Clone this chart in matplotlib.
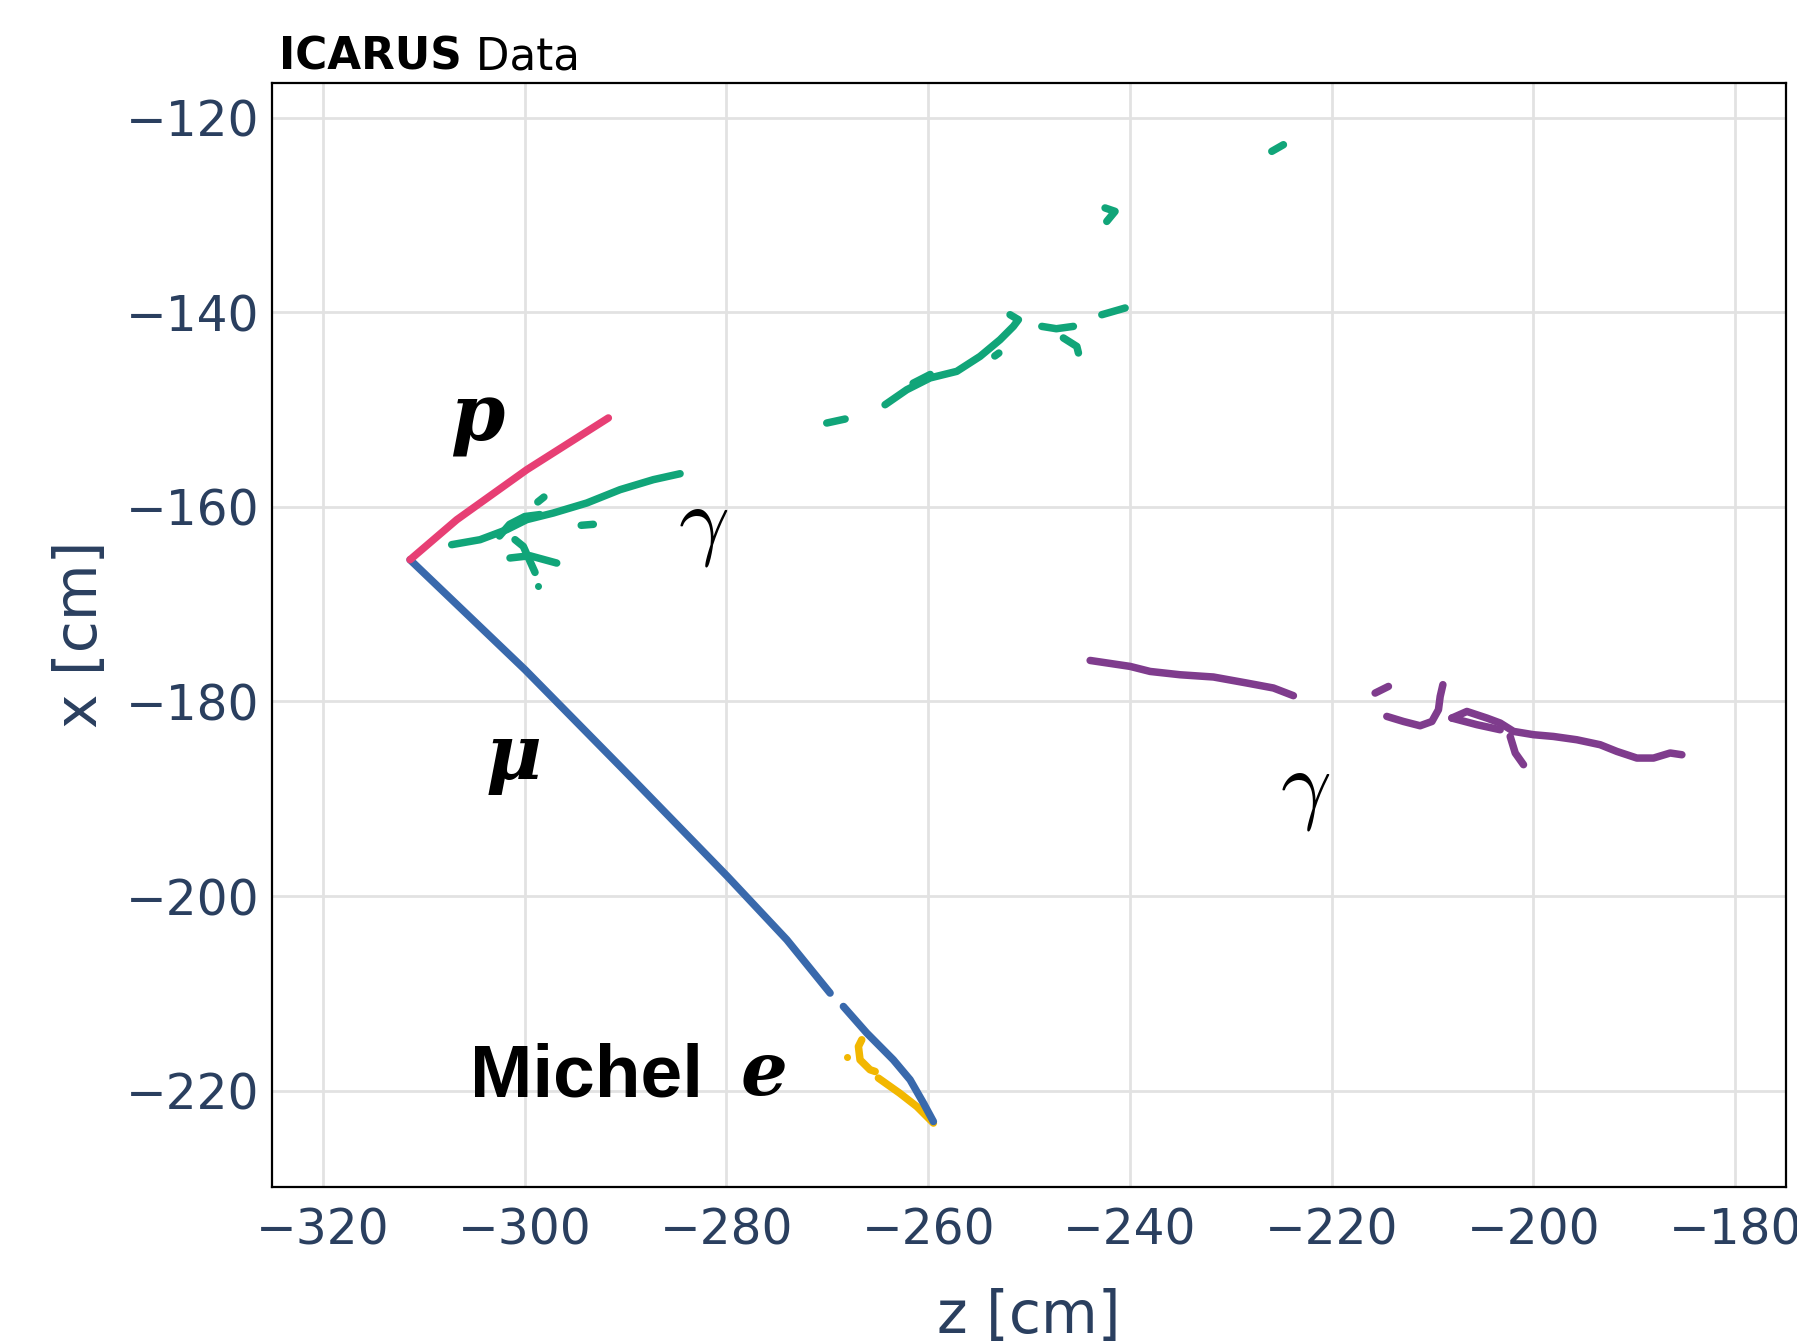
import matplotlib
matplotlib.use("Agg")
import matplotlib.pyplot as plt
import numpy as np

plt.rcParams['font.family'] = ['DejaVu Sans']
plt.rcParams['mathtext.fontset'] = 'cm'

# ---- track clusters (z [cm], x [cm]) ----
proton_z = [-311.37, -306.74, -299.80, -291.71]
proton_x = [-165.44, -161.33, -156.19, -150.87]

muon_a_z = [-311.37, -299.97, -289.23, -279.91, -274.02, -269.73]
muon_a_x = [-165.44, -176.74, -188.05, -197.98, -204.49, -209.97]
muon_b_z = [-268.41, -266.09, -263.46, -261.80, -260.48, -259.49]
muon_b_x = [-211.35, -214.08, -216.83, -218.88, -221.27, -223.17]

michel_a_z = [-266.59, -266.92, -266.76, -265.77, -265.26]
michel_a_x = [-214.77, -215.46, -216.83, -217.85, -218.03]
michel_b_z = [-264.94, -262.84, -261.13, -259.49]
michel_b_x = [-218.71, -220.25, -221.63, -223.33]
michel_dot = (-268.08, -216.55)

# photon 1 (green), several fragments
gamma1_frags = [
    ([-307.24, -304.43, -301.79, -299.80, -297.17, -293.85, -290.55, -287.25, -284.60],
     [-163.89, -163.38, -162.35, -161.32, -160.64, -159.61, -158.24, -157.21, -156.60]),
    ([-302.5, -301.5, -300.0, -298.5], [-163.0, -161.8, -161.0, -160.8]),
    ([-298.7, -298.1], [-159.5, -159.0]),
    ([-301.46, -299.48, -296.83], [-165.26, -165.03, -165.78]),
    ([-300.96, -300.14, -298.98], [-163.38, -164.07, -166.74]),
    ([-294.4, -293.2], [-161.9, -161.8]),
    ([-270.06, -268.24], [-151.39, -150.98]),
    ([-264.28, -262.13, -259.82, -257.17, -254.86, -252.88, -251.56, -251.06, -251.89],
     [-149.51, -147.97, -146.76, -146.08, -144.54, -142.83, -141.46, -140.77, -140.26]),
    ([-261.5, -259.8], [-147.3, -146.4]),
    ([-253.4, -253.0], [-144.5, -144.2]),
    ([-248.74, -247.3, -245.61], [-141.46, -141.7, -141.46]),
    ([-246.60, -245.27, -245.11], [-142.65, -143.52, -144.19]),
    ([-242.79, -240.48], [-140.26, -139.57]),
    ([-242.47, -241.48, -242.30], [-129.29, -129.64, -130.67]),
    ([-225.94, -224.79], [-123.47, -122.79]),
]
gamma1_dot = (-298.65, -168.18)

# photon 2 (purple)
gamma2_frags = [
    ([-243.95, -239.99, -238.00, -235.03, -231.73, -228.42, -225.78, -223.80],
     [-175.79, -176.40, -176.92, -177.26, -177.49, -178.11, -178.62, -179.41]),
    ([-215.70, -214.38], [-179.14, -178.46]),
    ([-214.54, -212.89, -211.24, -210.07, -209.42, -209.25, -208.98],
     [-181.54, -182.06, -182.50, -182.06, -180.85, -179.49, -178.28]),
    ([-208.09, -206.60, -204.62, -203.30, -201.98, -200.00, -198.02, -195.70,
      -193.39, -191.73, -189.75, -188.10, -186.45, -185.29],
     [-181.71, -181.03, -181.71, -182.22, -183.08, -183.42, -183.60, -183.94,
      -184.45, -185.14, -185.82, -185.82, -185.30, -185.48]),
    ([-208.09, -205.61, -203.30], [-181.71, -182.39, -182.91]),
    ([-202.31, -201.81, -200.99], [-183.60, -185.30, -186.50]),
]

# labels: text, z, x, font options
labels = [
    ("p", -307.4, -153.2, dict(family="DejaVu Serif", style="italic", weight="bold", size=56)),
    ("\u03bc", -303.9, -188.0, dict(family="DejaVu Serif", style="italic", weight="bold", size=55)),
    (r"$\gamma$", -284.8, -164.2, dict(size=64)),
    (r"$\gamma$", -225.1, -191.3, dict(size=64)),
    ("Michel", -305.4, -220.6, dict(family="Liberation Sans", weight="bold", size=54)),
    ("e", -278.6, -220.4, dict(family="DejaVu Serif", style="italic", weight="bold", size=53)),
]

# Carto "Bold" colours
PINK = "#E73F74"
BLUE = "#3969AC"
YELLOW = "#F2B701"
GREEN = "#11A579"
PURPLE = "#7F3C8D"
TICK_COLOR = "#2a3f5f"

fig = plt.figure(figsize=(17.97, 13.42), dpi=100)
ax = fig.add_axes([0.1511, 0.1155, 0.8426, 0.8230])

lw = 5.4
style = dict(linewidth=lw, solid_capstyle="round", solid_joinstyle="round")

for zz, xx in gamma1_frags:
    ax.plot(zz, xx, color=GREEN, **style)
ax.plot(*gamma1_dot, "o", color=GREEN, markersize=4)
for zz, xx in gamma2_frags:
    ax.plot(zz, xx, color=PURPLE, **style)

ax.plot(michel_a_z, michel_a_x, color=YELLOW, **style)
ax.plot(michel_b_z, michel_b_x, color=YELLOW, **style)
ax.plot(*michel_dot, "o", color=YELLOW, markersize=4)

ax.plot(muon_a_z, muon_a_x, color=BLUE, **style)
ax.plot(muon_b_z, muon_b_x, color=BLUE, **style)
ax.plot(proton_z, proton_x, color=PINK, **style)

for txt, zz, xx, kw in labels:
    ax.text(zz, xx, txt, ha="left", va="baseline", color="black", **kw)

ax.set_xlim(-325.1, -175.0)
ax.set_ylim(-229.9, -116.4)
ax.set_xticks(np.arange(-320, -179, 20))
ax.set_yticks(np.arange(-220, -119, 20))

ax.grid(True, color="#e2e2e2", linewidth=2.0)
ax.set_axisbelow(True)
for sp in ax.spines.values():
    sp.set_color("black")
    sp.set_linewidth(1.6)

ax.tick_params(length=0, labelsize=35, labelcolor=TICK_COLOR)
ax.tick_params(axis="x", pad=14)
ax.tick_params(axis="y", pad=9)
ax.set_xlabel("z [cm]", fontsize=42, color=TICK_COLOR, labelpad=24)
ax.set_ylabel("x [cm]", fontsize=42, color=TICK_COLOR, labelpad=12)

t1 = ax.text(0.005, 1.004, "ICARUS", transform=ax.transAxes, fontsize=31.5,
             fontweight="bold", ha="left", va="bottom")
ax.annotate(" Data", xy=(1, 0), xycoords=t1, fontsize=31.5, ha="left", va="bottom")

fig.savefig("out.png", dpi=100, facecolor="white")
